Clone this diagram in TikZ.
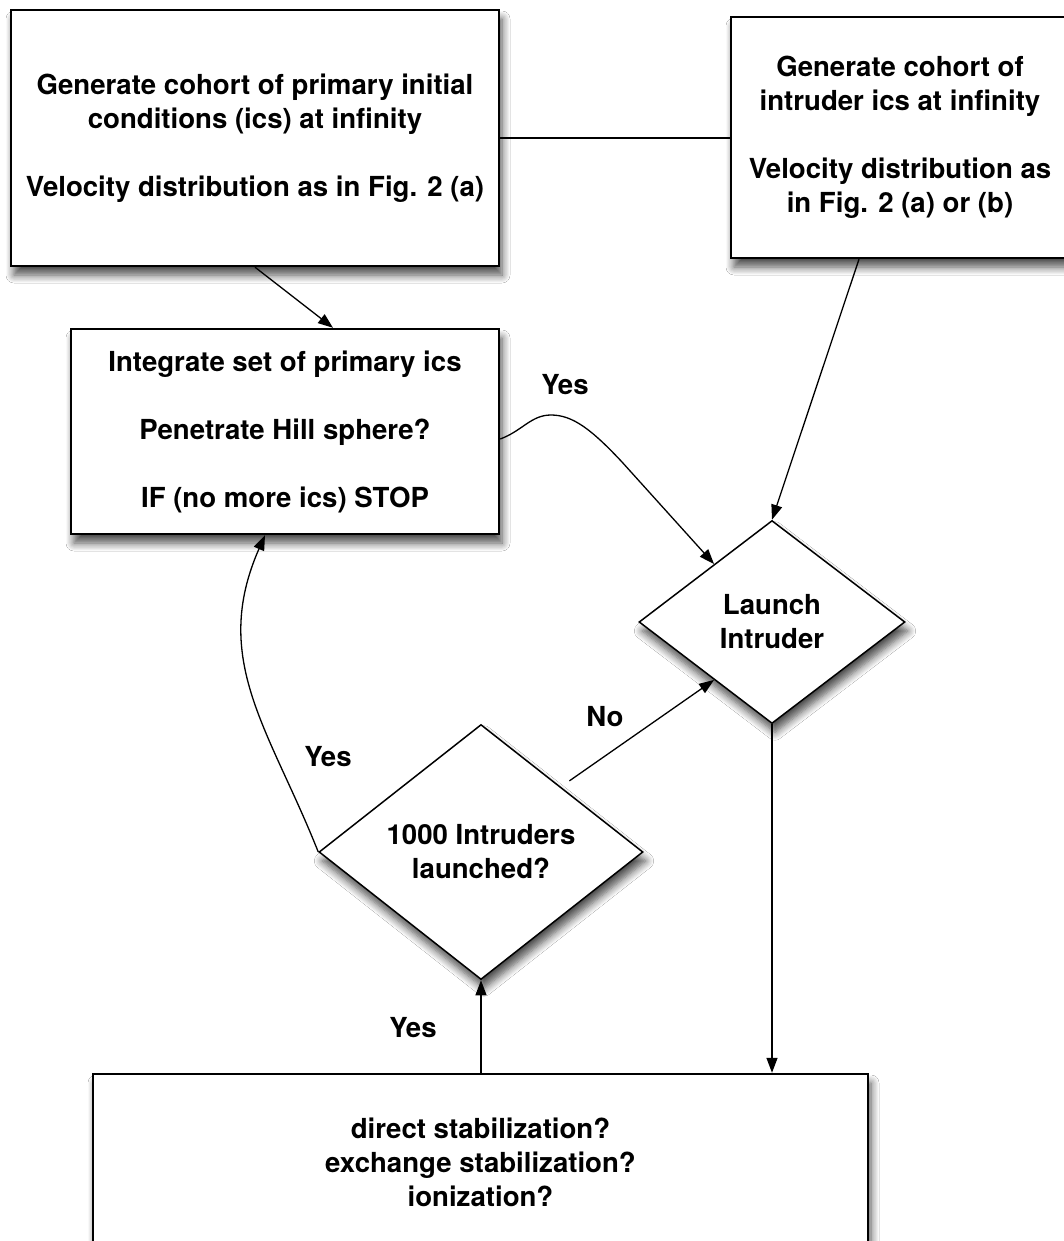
\documentclass[tikz,border=0pt]{standalone}
\usepackage{fontspec}
\setmainfont{TeX Gyre Heros}
\usetikzlibrary{shapes.geometric,arrows.meta,calc,shadows.blur}
\begin{document}
\begin{tikzpicture}[x=0.5pt,y=-0.5pt,
  every node/.style={font=\fontsize{13.8}{17}\selectfont\bfseries, align=center, inner sep=0pt},
  softshadow/.style={blur shadow={shadow xshift=1.5pt, shadow yshift=-4.5pt, shadow blur radius=4pt, shadow blur steps=8, shadow opacity=70}},
  procbox/.style={draw=black, line width=1.2pt, fill=white, rectangle, softshadow},
  decision/.style={draw=black, line width=0.75pt, fill=white, diamond, aspect=1.27, softshadow},
  conn/.style={line width=0.65pt},
  arr/.style={conn, -{Triangle[length=7.5pt,width=5.5pt]}}]
\useasboundingbox (0,0) rectangle (1064,1241);
\fill[white] (0,0) rectangle (1064,1241);

\node[procbox, minimum width=244pt, minimum height=128pt] (box1) at (255,138)
  {Generate cohort of primary initial\\conditions (ics) at infinity\\[17pt]Velocity distribution as in Fig. 2 (a)};
\node[procbox, minimum width=169pt, minimum height=120.5pt] (box2) at (900,137.5)
  {Generate cohort of\\intruder ics at infinity\\[17pt]Velocity distribution as\\in Fig. 2 (a) or (b)};
\node[procbox, minimum width=214pt, minimum height=102.5pt] (box3) at (285,431.5)
  {Integrate set of primary ics\\[17pt]Penetrate Hill sphere?\\[17pt]IF (no more ics) STOP};
\node[decision, minimum width=133pt, minimum height=101.5pt] (launch) at (772,622)
  {Launch\\Intruder};
\node[decision, minimum width=162pt, minimum height=127.5pt] (thou) at (481,852)
  {1000 Intruders\\launched?};
\node[procbox, minimum width=387.5pt, minimum height=88pt] (bottom) at (480.5,1162)
  {direct stabilization?\\exchange stabilization?\\ionization?};

\node (yesA) at (565,385) {Yes};
\node (yesB) at (328,757) {Yes};
\node (noA) at (605,717) {No};
\node (yesC) at (413,1028) {Yes};

\draw[conn] (box1.east) -- (box1.east -| box2.west);
\draw[arr] (box1.south) -- ($(box3.north)+(48,0)$);
\draw[arr] ($(box2.south)+(-41,0)$) -- (launch.north);
\draw[arr] ($(box3.east)+(0,7.5)$) .. controls +(22,-8) and +(-20,0) .. (551,415)
  .. controls +(22,0) and +(-30,-32) .. (622,462) -- (launch.135);
\draw[arr] (thou.west) .. controls (270,730) and (210,660) .. ($(box3.south)+(-20,0)$);
\draw[arr] ($(thou.north east)+(7,-7)$) -- (launch.225);
\draw[arr] (launch.south) -- (launch.south |- bottom.north);
\draw[arr] (thou.south |- bottom.north) -- (thou.south);
\end{tikzpicture}
\end{document}
